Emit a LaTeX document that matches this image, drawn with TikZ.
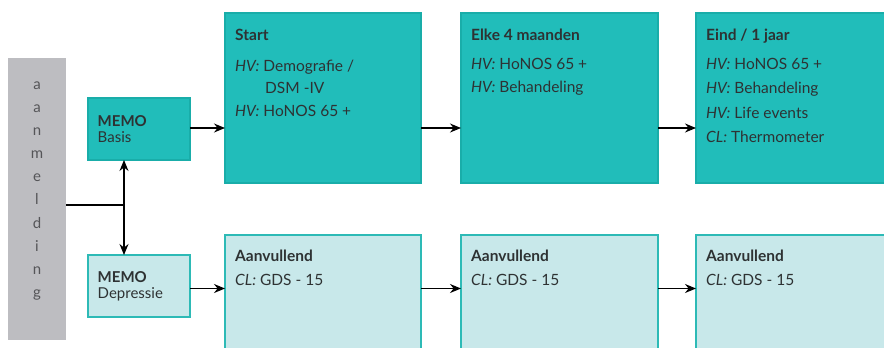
\documentclass[tikz,border=0pt]{standalone}
\usepackage{fontspec}
\setmainfont{Lato}
\usetikzlibrary{arrows.meta,calc}
\definecolor{tealfill}{HTML}{21BDBA}
\definecolor{tealline}{HTML}{19ADA9}
\definecolor{lightfill}{HTML}{C8E8EA}
\definecolor{lightline}{HTML}{2DBAB6}
\definecolor{greybar}{HTML}{BDBDC1}
\definecolor{txt}{HTML}{2E3233}
\definecolor{bartxt}{HTML}{555558}
\begin{document}
\begin{tikzpicture}[x=1pt,y=-1pt,
  darkbox/.style={draw=tealline,fill=tealfill,line width=1.2pt,outer sep=0pt,anchor=north west,inner sep=0pt},
  lightbox/.style={draw=lightline,fill=lightfill,line width=1.2pt,outer sep=0pt,anchor=north west,inner sep=0pt},
  lbl/.style={text=txt,anchor=base west,inner sep=0pt,font=\fontsize{15.5}{18}\selectfont},
  memo/.style={text=txt,anchor=base west,inner sep=0pt,font=\fontsize{15}{18}\selectfont},
  arr/.style={draw=black,line width=1.3pt,-{Stealth[length=11pt,width=9pt]}},
  ln/.style={draw=black,line width=1.3pt}]
\useasboundingbox (0,0) rectangle (884,348);
\clip (0,0) rectangle (884,348);
% grey bar
\node[fill=greybar,minimum width=58pt,minimum height=282pt,anchor=north west,inner sep=0pt,outer sep=0pt] (bar) at (8,58) {};
\foreach \c [count=\i from 0] in {a,a,n,m,e,l,d,i,n,g}
  \node[text=bartxt,anchor=base,inner sep=0pt,font=\fontsize{15}{17}\selectfont] at (37,89.3+23.13*\i) {\c};
% MEMO boxes
\node[darkbox,minimum width=102pt,minimum height=62pt] (basis) at (88,98) {};
\node[lightbox,minimum width=102pt,minimum height=62pt] (dep) at (88,255) {};
\node[memo] at (97.5,126) {\textbf{MEMO}};
\node[memo] at (97.5,142) {Basis};
\node[memo] at (97.5,282) {\textbf{MEMO}};
\node[memo] at (97.5,298) {Depressie};
% top row
\node[darkbox,minimum width=196pt,minimum height=170pt] (start) at (225,13) {};
\node[darkbox,minimum width=197pt,minimum height=170pt] (elke) at (461,13) {};
\node[darkbox,minimum width=210pt,minimum height=170pt] (eind) at (696,13) {};
% bottom row
\node[lightbox,minimum width=196pt,minimum height=130pt] (aan1) at (225,235) {};
\node[lightbox,minimum width=197pt,minimum height=130pt] (aan2) at (461,235) {};
\node[lightbox,minimum width=210pt,minimum height=130pt] (aan3) at (696,235) {};
% texts top
\node[lbl] at (235,40) {\textbf{Start}};
\node[lbl] at (235,71.5) {\textit{HV:} Demografie /};
\node[lbl] at (265,93) {DSM -IV};
\node[lbl] at (235,116.5) {\textit{HV:} HoNOS 65 +};
\node[lbl] at (471,40) {\textbf{Elke 4 maanden}};
\node[lbl] at (471,69) {\textit{HV:} HoNOS 65 +};
\node[lbl] at (471,92) {\textit{HV:} Behandeling};
\node[lbl] at (706,40) {\textbf{Eind / 1 jaar}};
\node[lbl] at (706,69) {\textit{HV:} HoNOS 65 +};
\node[lbl] at (706,93.5) {\textit{HV:} Behandeling};
\node[lbl] at (706,118) {\textit{HV:} Life events};
\node[lbl] at (706,142.5) {\textit{CL:} Thermometer};
% texts bottom
\foreach \x in {235,471,706} {
  \node[lbl] at (\x,261) {\textbf{Aanvullend}};
  \node[lbl] at (\x,285) {\textit{CL:} GDS - 15};
}
% connectors
\coordinate (j) at (124,205);
\draw[ln] (bar.east |- j) -- (j);
\draw[arr] (j) -- (basis.south -| j);
\draw[arr] (j) -- (dep.north -| j);
\coordinate (r1) at (0,128);
\coordinate (r2) at (0,288.5);
\draw[arr] (basis.east |- r1) -- (start.west |- r1);
\draw[arr] (start.east |- r1) -- (elke.west |- r1);
\draw[arr] (elke.east |- r1) -- (eind.west |- r1);
\draw[arr] (dep.east |- r2) -- (aan1.west |- r2);
\draw[arr] (aan1.east |- r2) -- (aan2.west |- r2);
\draw[arr] (aan2.east |- r2) -- (aan3.west |- r2);
\end{tikzpicture}
\end{document}
